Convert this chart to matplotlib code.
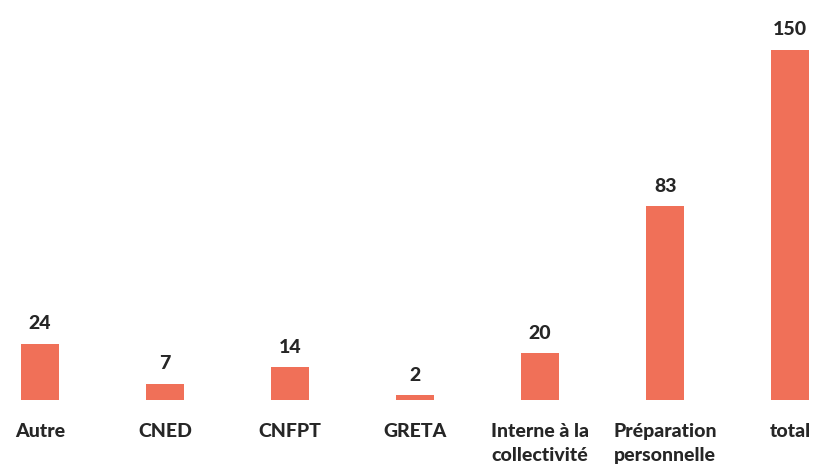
import matplotlib.pyplot as plt

categories = ['Autre', 'CNED', 'CNFPT', 'GRETA', 'Interne à la\ncollectivité',
              'Préparation\npersonnelle', 'total']
values = [24, 7, 14, 2, 20, 83, 150]

plt.rcParams['font.family'] = ['Lato', 'DejaVu Sans']

fig = plt.figure(figsize=(8.14, 4.68), dpi=100)
ax = fig.add_axes([0, 0, 1, 1])
x = range(len(categories))
ax.bar(x, values, width=0.3, color='#F07058')
for i, v in enumerate(values):
    ax.text(i, v + 5, str(v), ha='center', va='bottom', fontsize=14,
            fontweight='black', color='#262626')
    ax.text(i, -10, categories[i], ha='center', va='top', fontsize=14,
            fontweight='black', color='#262626', linespacing=1.5)
ax.set_xlim(-0.32, 6.19)
ax.set_ylim(-29.1, 171.4)
ax.axis('off')
fig.savefig('out.png', dpi=100)
